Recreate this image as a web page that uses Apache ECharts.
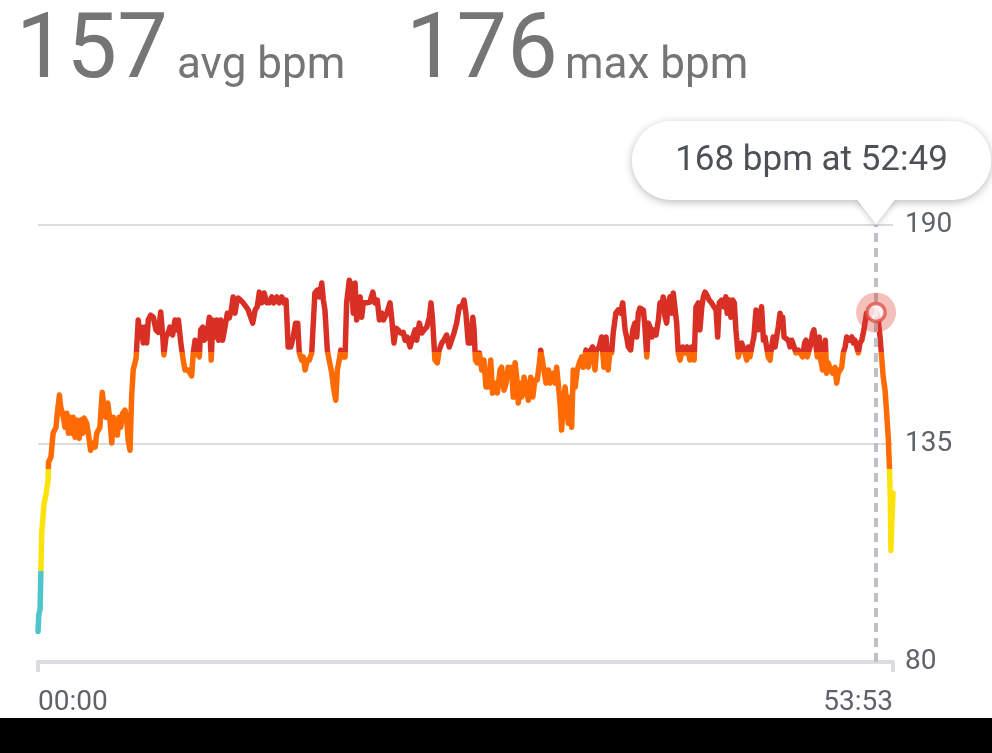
<!DOCTYPE html>
<html><head><meta charset="utf-8">
<script src="https://cdn.jsdelivr.net/npm/echarts@6/dist/echarts.min.js"></script>
<style>html,body{margin:0;padding:0;background:#fff;overflow:hidden}#c{width:992px;height:753px}</style>
</head><body><div id="c"></div>
<script>
// ---- data ----
const avgBpm = 157;
const maxBpm = 176;
const durationSec = 3233;          // 53:53
const yTicks = [80, 135, 190];
const xTicks = [0, 3233];
const selectedPoint = [3169, 168]; // 52:49, 168 bpm
const zoneBreaks = [103, 128.5, 158];
const zoneColors = ['#4cc5cc', '#fce20b', '#fe6a03', '#d93025'];
// [seconds, bpm]
const heartRate = [
[0,87.7],[3,92.0],[8,93.3],[11,103.1],[14,112.4],[23,120.0],[30,122.0],[38,125.7],[40,130.3],[49,131.6],
[57,137.6],[68,139.1],[73,142.6],[81,147.2],[86,144.2],[96,141.6],[102,139.1],[109,142.6],[115,137.6],[121,141.6],
[127,137.6],[133,141.6],[140,136.6],[146,140.9],[156,136.3],[161,140.9],[169,137.6],[174,141.4],[184,140.1],[190,137.6],
[199,133.3],[209,135.1],[216,134.1],[222,137.6],[234,139.1],[243,147.9],[250,143.4],[257,141.6],[264,145.2],[272,140.9],
[279,135.1],[285,141.6],[295,139.1],[300,137.1],[307,141.6],[313,139.1],[320,142.6],[329,143.4],[335,141.6],[341,135.8],
[348,133.3],[354,146.7],[360,153.5],[371,156.5],[379,166.1],[386,161.8],[392,164.3],[398,160.3],[405,164.3],[411,160.3],
[417,166.1],[426,167.3],[436,166.8],[446,163.6],[455,163.0],[464,168.1],[472,161.8],[476,157.3],[484,161.8],[493,163.0],
[499,164.3],[509,162.3],[518,166.1],[524,163.6],[531,166.1],[540,160.3],[549,156.0],[556,153.5],[568,153.5],[581,152.0],
[587,157.8],[594,161.0],[600,157.8],[610,156.8],[615,163.6],[623,164.3],[628,161.0],[638,161.8],[648,166.8],[655,156.0],
[661,166.1],[669,161.8],[676,166.1],[683,161.0],[691,166.1],[698,161.0],[707,164.3],[716,167.8],[723,166.6],[731,168.6],
[738,171.9],[745,167.8],[751,170.4],[757,171.6],[766,171.1],[776,170.4],[787,169.4],[795,168.6],[804,166.8],[812,165.3],
[821,168.6],[829,169.4],[837,173.1],[846,170.4],[855,172.9],[865,170.4],[875,170.4],[884,171.9],[892,170.4],[903,171.9],
[912,170.4],[922,171.9],[930,170.4],[938,171.1],[946,159.3],[956,159.3],[965,161.8],[974,165.3],[982,165.3],[988,157.8],
[997,156.0],[1003,156.8],[1010,153.5],[1018,156.0],[1026,156.0],[1035,157.8],[1047,172.9],[1056,173.6],[1064,171.9],[1073,175.4],
[1079,171.1],[1085,168.6],[1094,158.5],[1101,156.0],[1111,152.7],[1117,149.2],[1126,145.9],[1132,153.5],[1139,156.0],[1145,158.5],
[1152,156.8],[1161,156.8],[1167,170.4],[1177,176.1],[1186,174.4],[1192,167.8],[1199,175.4],[1205,166.1],[1211,171.1],[1218,171.9],
[1224,166.8],[1230,170.4],[1243,170.4],[1255,170.6],[1266,173.1],[1274,170.4],[1283,171.1],[1291,166.1],[1300,167.8],[1306,166.1],
[1319,167.8],[1331,170.4],[1337,166.8],[1346,160.3],[1354,164.0],[1362,163.6],[1371,162.8],[1381,163.0],[1388,161.0],[1396,161.8],
[1407,159.3],[1417,161.8],[1426,163.6],[1432,161.0],[1442,165.3],[1451,162.8],[1460,163.6],[1470,164.3],[1480,166.8],[1486,170.4],
[1492,166.1],[1501,156.0],[1510,155.3],[1517,158.5],[1527,160.3],[1535,161.0],[1545,162.3],[1555,159.3],[1564,161.0],[1573,162.8],
[1583,165.3],[1593,169.4],[1602,169.4],[1611,171.1],[1618,167.8],[1627,160.3],[1636,160.3],[1644,166.8],[1649,163.6],[1654,156.0],
[1661,155.3],[1669,157.8],[1678,153.5],[1686,156.0],[1694,149.2],[1703,149.2],[1712,156.0],[1719,147.7],[1728,150.2],[1737,147.7],
[1747,153.5],[1753,154.2],[1762,148.4],[1770,150.2],[1778,154.2],[1785,151.7],[1791,154.2],[1797,146.7],[1804,155.3],[1810,151.7],
[1816,145.2],[1823,150.2],[1829,146.7],[1838,151.7],[1845,149.2],[1854,145.9],[1863,151.7],[1871,146.7],[1879,151.0],[1888,151.0],
[1896,155.3],[1901,158.5],[1908,158.5],[1913,153.5],[1921,150.2],[1930,153.5],[1936,150.2],[1946,152.7],[1955,150.2],[1961,154.2],
[1967,150.2],[1974,145.2],[1980,138.4],[1986,145.2],[1993,149.2],[1999,145.2],[2005,140.1],[2012,146.7],[2018,139.1],[2024,153.5],
[2031,149.2],[2039,153.5],[2047,155.3],[2056,156.8],[2062,154.2],[2072,158.5],[2081,154.2],[2090,158.5],[2097,159.3],[2106,153.5],
[2112,158.5],[2122,159.3],[2131,161.8],[2140,154.2],[2148,161.8],[2156,153.5],[2163,158.5],[2169,157.8],[2175,162.8],[2185,167.8],
[2194,168.6],[2203,167.8],[2211,170.4],[2220,163.6],[2226,161.8],[2232,159.3],[2241,158.5],[2249,163.6],[2257,165.3],[2264,161.8],
[2270,167.8],[2276,169.1],[2283,169.4],[2289,168.6],[2295,164.3],[2302,156.8],[2308,165.3],[2314,164.3],[2321,161.8],[2327,163.6],
[2337,162.3],[2346,166.1],[2352,170.4],[2358,168.6],[2364,171.9],[2371,166.8],[2377,165.3],[2383,170.4],[2390,171.9],[2396,167.8],
[2402,172.9],[2409,172.9],[2415,165.3],[2421,157.8],[2428,156.0],[2438,159.3],[2446,157.8],[2455,159.3],[2465,156.0],[2472,159.3],
[2481,156.0],[2488,169.4],[2497,170.4],[2503,163.6],[2510,169.4],[2516,171.9],[2522,173.1],[2529,172.4],[2538,171.1],[2547,170.4],
[2556,169.4],[2564,168.6],[2570,161.8],[2576,170.4],[2585,171.1],[2594,169.4],[2601,171.9],[2606,167.8],[2614,171.1],[2620,166.8],
[2627,171.1],[2633,170.4],[2639,163.6],[2648,156.8],[2654,156.8],[2661,160.3],[2667,160.3],[2673,157.8],[2680,156.0],[2686,159.3],
[2692,156.8],[2702,160.3],[2707,161.8],[2715,168.6],[2724,163.6],[2730,166.1],[2736,169.4],[2743,161.0],[2749,161.8],[2755,159.3],
[2761,156.8],[2768,156.0],[2774,159.3],[2780,161.8],[2787,159.3],[2793,161.8],[2799,164.3],[2806,167.8],[2812,165.3],[2816,166.8],
[2821,161.8],[2828,161.8],[2837,161.0],[2844,159.3],[2850,161.0],[2859,159.3],[2866,157.8],[2875,158.5],[2881,158.5],[2891,156.8],
[2899,160.3],[2904,161.0],[2909,156.8],[2916,156.8],[2923,160.3],[2929,162.8],[2934,163.6],[2942,159.3],[2947,156.8],[2954,161.8],
[2960,156.0],[2967,153.5],[2972,158.5],[2977,161.0],[2982,152.7],[2988,155.3],[2997,153.5],[3005,152.7],[3014,154.2],[3020,150.2],
[3026,152.7],[3033,153.5],[3039,154.2],[3045,157.8],[3052,159.3],[3058,161.8],[3068,161.0],[3077,161.8],[3083,160.3],[3089,161.0],
[3096,159.3],[3102,157.8],[3108,160.3],[3115,161.0],[3123,163.6],[3133,167.8],[3143,166.8],[3152,168.6],[3159,168.1],[3169,168.0],
[3177,166.1],[3184,161.8],[3190,156.8],[3196,151.7],[3203,148.4],[3209,142.6],[3215,136.6],[3220,128.3],[3223,120.7],[3225,108.1],
[3229,115.7],[3233,122.5]
];

function mmss(s) {
  const m = Math.floor(s / 60), r = Math.round(s % 60);
  return String(m).padStart(2, '0') + ':' + String(r).padStart(2, '0');
}

const chart = echarts.init(document.getElementById('c'), null, { renderer: 'canvas' });
const FONT = 'Roboto, "Noto Sans", sans-serif';

chart.setOption({
  animation: false,
  backgroundColor: '#ffffff',
  grid: { left: 38, right: 99, top: 225, bottom: 91 },
  xAxis: {
    type: 'value', min: 0, max: durationSec,
    axisLine: { lineStyle: { color: '#dadce0', width: 4 } },
    axisTick: { show: true, customValues: xTicks, length: 10, lineStyle: { color: '#dadce0', width: 4 } },
    axisLabel: { customValues: xTicks, formatter: v => mmss(v), color: '#5f6368', fontSize: 28,
      fontFamily: FONT, margin: 27, alignMinLabel: 'left', alignMaxLabel: 'right' },
    splitLine: { show: false }
  },
  yAxis: {
    type: 'value', position: 'right', min: yTicks[0], max: yTicks[yTicks.length - 1],
    axisLine: { show: false },
    axisTick: { show: false, customValues: yTicks },
    axisLabel: { customValues: yTicks, color: '#5f6368', fontSize: 28, fontFamily: FONT, margin: 12,
      lineHeight: 34, padding: [6, 0, 0, 0] },
    splitLine: { show: true, lineStyle: { color: '#dadce0', width: 2 } }
  },
  visualMap: {
    show: false, type: 'piecewise', seriesIndex: 0, dimension: 1,
    pieces: [
      { lt: zoneBreaks[0], color: zoneColors[0] },
      { gte: zoneBreaks[0], lt: zoneBreaks[1], color: zoneColors[1] },
      { gte: zoneBreaks[1], lt: zoneBreaks[2], color: zoneColors[2] },
      { gte: zoneBreaks[2], color: zoneColors[3] }
    ]
  },
  series: [
    {
      type: 'line', data: heartRate, showSymbol: false, symbol: 'none', z: 3,
      lineStyle: { width: 5.5, join: 'round', cap: 'round' },
      markLine: {
        silent: true, symbol: 'none', label: { show: false },
        lineStyle: { color: '#bdc1c6', width: 4, type: [9, 6] },
        data: [{ xAxis: selectedPoint[0] }]
      }
    },
    { type: 'scatter', data: [selectedPoint], symbolSize: 40, z: 5, silent: true,
      itemStyle: { color: 'rgba(217,48,37,0.38)' } },
    { type: 'scatter', data: [selectedPoint], symbolSize: 18, z: 6, silent: true,
      itemStyle: { color: '#ffffff', borderColor: '#e0524a', borderWidth: 3.5 } }
  ]
});

const tip = chart.convertToPixel({ gridIndex: 0 }, [selectedPoint[0], yTicks[yTicks.length - 1]]);
const tx = tip[0], ty = tip[1];
const bubble = { x: 632, y: 121, width: 359, height: 79, r: 39.5 };

chart.setOption({
  graphic: [
    { type: 'text', x: 16, y: 54, z: 10, style: { text: String(avgBpm), font: '90px ' + FONT, fill: '#757575', textVerticalAlign: 'middle', verticalAlign: 'middle' } },
    { type: 'text', x: 177, y: 67, z: 10, style: { text: 'avg bpm', font: '44px ' + FONT, fill: '#757575', textVerticalAlign: 'middle', verticalAlign: 'middle' } },
    { type: 'text', x: 406, y: 54, z: 10, style: { text: String(maxBpm), font: '90px ' + FONT, fill: '#757575', textVerticalAlign: 'middle', verticalAlign: 'middle' } },
    { type: 'text', x: 565, y: 67, z: 10, style: { text: 'max bpm', font: '44px ' + FONT, fill: '#757575', textVerticalAlign: 'middle', verticalAlign: 'middle' } },
    { type: 'rect', z: 10, shape: bubble, style: { fill: '#fff', shadowBlur: 8, shadowOffsetY: 2, shadowColor: 'rgba(0,0,0,0.28)' } },
    { type: 'polygon', z: 10, shape: { points: [[tx - 20, bubble.y + bubble.height - 2], [tx + 20, bubble.y + bubble.height - 2], [tx, ty - 1]] },
      style: { fill: '#fff', shadowBlur: 6, shadowOffsetY: 2, shadowColor: 'rgba(0,0,0,0.22)' } },
    { type: 'rect', z: 11, shape: bubble, style: { fill: '#fff' } },
    { type: 'polygon', z: 11, shape: { points: [[tx - 20, bubble.y + bubble.height - 2], [tx + 20, bubble.y + bubble.height - 2], [tx, ty - 1]] },
      style: { fill: '#fff' } },
    { type: 'text', z: 12, x: bubble.x + bubble.width / 2, y: bubble.y + bubble.height / 2 + 1,
      style: { text: selectedPoint[1] + ' bpm at ' + mmss(selectedPoint[0]), font: '35px ' + FONT, fill: '#4d5156',
        textAlign: 'center', align: 'center', textVerticalAlign: 'middle', verticalAlign: 'middle' } },
    { type: 'rect', z: 20, shape: { x: 0, y: 718, width: 992, height: 35 }, style: { fill: '#000' } }
  ]
});
</script>
</body></html>
